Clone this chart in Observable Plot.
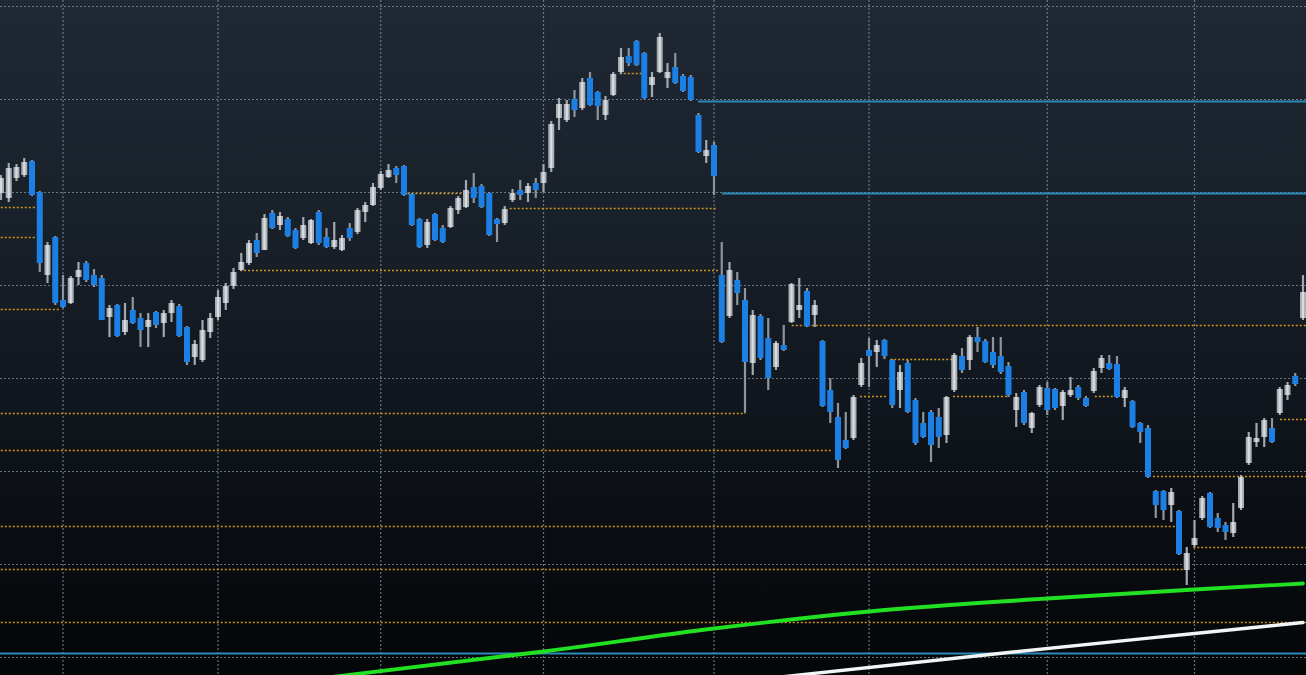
<!DOCTYPE html>
<html>
<head>
<meta charset="utf-8">
<script src="https://cdn.jsdelivr.net/npm/d3@7"></script>
<script src="https://cdn.jsdelivr.net/npm/@observablehq/plot@0.6"></script>
<style>
  html, body { margin: 0; padding: 0; overflow: hidden; }
  body { width: 1306px; height: 675px;
    background: linear-gradient(to bottom, #1f2833 0%, #19212b 30%, #10161d 60%, #080b0f 85%, #050608 100%); }
  #chart svg { display: block; }
</style>
</head>
<body>
<div id="chart"></div>
<script>
// Daily candles (index = trading day)
const opens = [80.7,80.2,82.2,82.5,83.9,80.8,72.5,76.3,70.0,69.7,72.3,73.7,72.5,72.2,68.3,69.5,66.8,69.0,68.2,67.3,
68.8,67.7,68.7,69.4,67.3,64.3,64.0,66.8,68.3,69.7,71.4,73.0,73.7,76.0,75.0,78.7,77.5,78.1,77.0,76.2,
75.7,78.8,76.3,75.3,75.0,77.2,76.8,78.8,79.5,81.2,82.3,83.2,83.4,80.6,78.1,75.5,78.6,77.2,77.3,79.0,
79.3,81.3,81.4,80.7,78.1,77.7,80.0,81.0,80.7,81.7,81.7,83.2,88.2,88.0,90.1,89.2,92.2,90.8,88.5,90.5,
92.8,94.4,95.9,94.7,91.5,92.8,92.2,93.3,92.4,92.3,88.5,84.4,85.5,72.5,68.4,72.0,70.0,63.7,68.4,66.2,
63.3,65.5,67.8,69.0,70.9,68.5,65.9,61.0,58.3,56.0,56.2,61.5,65.0,64.8,66.0,64.0,61.0,63.7,60.0,57.7,
58.8,58.3,56.5,61.0,64.4,64.0,66.3,65.9,64.8,64.4,63.4,59.0,60.8,57.2,59.5,61.2,61.1,59.4,60.5,61.3,
60.2,60.9,63.2,63.7,63.6,60.2,59.9,57.7,57.2,50.9,50.9,49.5,48.9,43.0,45.5,48.2,50.7,48.2,47.5,46.7,
49.2,53.7,55.8,56.3,57.2,58.7,60.5,62.4,68.2];
const highs = [82.5,83.7,83.6,84.2,84.0,80.9,75.8,76.4,72.5,72.4,73.8,73.9,73.1,72.5,69.5,69.6,69.7,70.3,68.7,68.7,
68.9,69.0,70.0,69.6,67.4,66.0,68.0,68.7,71.0,71.7,73.2,74.7,76.0,76.7,78.6,79.0,78.8,78.3,77.2,78.3,
78.1,79.0,77.2,77.8,76.5,77.7,79.2,79.8,81.7,82.9,83.6,83.4,83.5,80.7,78.2,78.1,78.7,77.5,79.4,80.4,
82.0,82.7,81.6,80.8,78.2,79.4,81.1,82.0,81.7,82.2,83.6,87.9,90.2,90.0,91.0,92.2,92.8,90.9,90.4,92.8,
95.2,95.2,96.0,94.8,92.8,96.7,93.7,94.7,92.6,92.5,88.7,86.0,85.8,75.8,73.8,72.8,71.2,69.0,68.6,68.2,
65.9,67.5,71.7,72.2,71.2,70.0,66.0,62.2,59.7,58.8,60.5,64.2,66.2,66.0,66.1,64.1,63.5,64.0,60.2,58.8,
59.0,59.2,60.4,64.7,65.2,66.5,67.3,66.1,66.3,66.3,63.8,60.7,61.0,58.8,61.5,61.8,61.2,61.0,62.3,61.5,
60.4,63.2,64.5,64.5,64.4,61.3,60.0,57.8,57.5,51.0,51.0,51.2,49.0,45.3,48.0,50.4,50.8,48.7,47.8,49.7,
52.5,56.8,57.7,58.2,58.2,61.3,61.8,62.7,72.5];
const lows = [80.0,79.8,81.9,82.3,80.4,72.8,71.7,69.5,69.2,69.6,71.5,71.8,71.3,68.0,66.3,66.3,66.5,67.6,65.3,65.3,
67.2,66.3,67.8,66.3,63.5,63.5,63.8,66.2,68.0,69.0,71.1,72.9,73.5,74.3,75.0,77.1,77.0,76.3,75.1,76.0,
75.6,75.5,75.2,75.1,74.9,75.9,76.6,77.8,79.4,81.0,82.2,81.7,80.4,77.4,75.2,75.2,75.9,75.7,77.2,78.6,
79.2,79.7,79.2,76.4,75.8,77.5,79.8,80.0,79.8,80.2,80.8,82.8,87.0,87.8,88.3,89.0,89.4,88.0,88.0,90.4,
92.6,93.4,93.4,90.1,90.3,92.7,91.2,91.6,90.8,89.9,84.7,83.7,80.5,65.7,68.2,69.5,58.7,62.5,64.0,61.0,
63.0,64.9,67.7,68.2,67.3,67.3,59.3,57.7,53.2,55.1,56.0,61.3,61.3,63.3,64.1,59.2,59.2,58.7,55.5,56.2,
53.8,55.2,55.7,60.8,62.7,63.0,64.8,63.7,63.2,62.6,60.3,57.3,57.5,56.7,59.3,58.5,59.0,58.0,60.3,60.0,
59.3,60.7,62.7,63.0,60.2,59.3,57.2,55.7,52.2,48.2,48.0,47.8,44.5,41.5,45.3,48.0,47.2,46.8,46.0,46.3,
49.0,53.5,55.3,55.3,55.7,58.5,60.0,61.4,68.0];
const closes = [82.2,83.2,83.3,83.8,80.5,73.7,75.5,69.7,69.3,72.2,73.0,72.0,71.5,68.0,69.2,66.4,68.0,67.7,67.0,68.0,
67.5,68.7,69.7,66.4,63.8,65.6,67.0,68.2,70.3,71.4,72.8,73.8,75.7,74.7,78.2,77.2,78.4,76.4,75.2,77.5,
78.0,75.7,75.3,76.0,76.2,76.2,79.0,79.5,81.3,82.6,83.0,82.5,80.5,77.5,75.3,77.8,76.0,75.8,79.2,80.2,
81.0,80.2,79.3,76.5,77.6,79.1,80.7,80.5,81.4,81.0,82.8,87.6,89.6,89.6,89.0,91.8,89.5,89.4,90.0,92.6,
94.3,93.7,93.5,90.2,92.3,96.3,92.8,91.7,90.9,90.0,84.8,85.0,82.4,65.8,73.0,70.7,63.8,68.5,64.2,62.2,
65.7,65.0,71.6,69.5,67.4,69.5,59.4,58.8,54.0,55.2,60.3,63.7,64.4,65.5,64.4,59.5,62.8,58.8,55.7,56.3,
55.5,56.3,60.3,64.5,63.0,66.3,65.8,63.8,63.5,62.8,60.5,60.3,57.7,58.7,61.3,59.0,59.2,60.8,61.0,60.2,
59.4,62.9,64.2,63.1,60.3,61.0,57.3,56.8,52.3,49.5,49.0,50.8,44.6,44.7,46.2,50.2,47.3,47.2,46.8,47.8,
52.3,56.3,56.2,58.0,55.8,61.1,61.5,61.6,70.8];

// Month-start grid days and horizontal grid levels
const gridDays = [8, 28, 49, 70, 92, 112, 135, 154];
const gridLevels = [99.4, 90.1, 80.8, 71.5, 62.2, 52.9, 43.6, 34.3];

// Support / resistance levels (orange dotted)
const supportPrice = [79.3, 76.3, 69.1, 80.7, 79.2, 73.0, 92.7, 58.7, 55.0, 47.4, 43.1, 37.8, 67.5, 64.1, 60.4, 60.4, 60.4, 58.1, 52.4, 45.3];
const supportFrom  = [-1, -1, -1, 52.5, 65.7, 30.9, 79.9, -1, -1, -1, -1, -1, 102.1, 114.8, 110.9, 122.9, 141.2, 165.1, 148.7, 153.9];
const supportTo    = [4.6, 4.6, 7.7, 59.7, 92.5, 92.6, 82.8, 96.1, 107.4, 151.8, 152.8, 170, 170, 122.8, 114.4, 129.9, 143.8, 170, 170, 170];

// Key levels (blue)
const keyPrice = [89.9, 80.7, 34.7];
const keyFrom  = [90, 93.1, -1];
const keyTo    = [170, 170, 170];

// Moving averages (read at selected days)
const maFastDay = [40, 70, 92, 112, 135, 154, 168];
const maFastVal = [32.1, 34.9, 37.2, 38.9, 40.2, 41.1, 41.7];
const maSlowDay = [100, 130, 154, 168];
const maSlowVal = [32.3, 34.8, 36.7, 37.8];

const candles = opens.map((o, i) => ({i, o, h: highs[i], l: lows[i], c: closes[i], up: closes[i] >= o}));
const supports = supportPrice.map((p, k) => ({p, a: supportFrom[k], b: supportTo[k]}));
const keys = keyPrice.map((p, k) => ({p, a: keyFrom[k], b: keyTo[k]}));
const maFast = maFastDay.map((d, k) => ({d, v: maFastVal[k]}));
const maSlow = maSlowDay.map((d, k) => ({d, v: maSlowVal[k]}));

const W = 1306, H = 675;
const chart = Plot.plot({
  width: W, height: H, margin: 0,
  style: {background: "transparent"},
  x: {type: "linear", domain: [-0.5 / 7.75, (W - 0.5) / 7.75], axis: null},
  y: {domain: [32.5, 100], axis: null},
  marks: [
    Plot.ruleX(gridDays, {x: d => d, stroke: "#808a97", strokeWidth: 1.2, strokeDasharray: "2,2", strokeOpacity: 0.8}),
    Plot.ruleY(gridLevels, {y: d => d, stroke: "#808a97", strokeWidth: 1.2, strokeDasharray: "2,2", strokeOpacity: 0.8}),
    Plot.ruleY(supports, {y: "p", x1: "a", x2: "b", stroke: "#d0951f", strokeWidth: 1.5, strokeDasharray: "2,2", clip: true}),
    Plot.ruleY(keys, {y: "p", x1: "a", x2: "b", stroke: "#2a8bbb", strokeWidth: 2.2, clip: true}),
    Plot.line(maSlow, {x: "d", y: "v", curve: "monotone-x", stroke: "#f2f4f6", strokeWidth: 3.4, clip: true}),
    Plot.line(maFast, {x: "d", y: "v", curve: "monotone-x", stroke: "#22e022", strokeWidth: 3.8, clip: true}),
    Plot.ruleX(candles, {x: "i", y1: "l", y2: "h", stroke: d => d.up ? "#a3a8af" : "#8d949c", strokeWidth: 2.2}),
    Plot.ruleX(candles, {x: "i", y1: "o", y2: "c", stroke: d => d.up ? "#a9aeb5" : "#1c7fe3", strokeWidth: 6, strokeLinecap: "butt"}),
    Plot.ruleX(candles.filter(d => d.up), {x: "i", y1: "o", y2: "c", stroke: "#d9dcdf", strokeWidth: 2.2, strokeLinecap: "butt"})
  ]
});
document.getElementById("chart").appendChild(chart);
</script>
</body>
</html>
